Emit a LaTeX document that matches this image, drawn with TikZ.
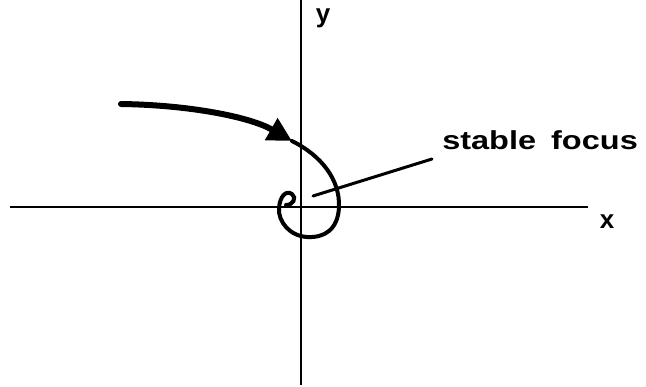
\documentclass[tikz,border=0pt]{standalone}
\usepackage{fontspec}
\setmainfont{Liberation Sans}
\usetikzlibrary{arrows.meta}
\begin{document}
\begin{tikzpicture}[x=1pt,y=-1pt,
  axis/.style={line width=2pt},
  traj/.style={line width=4pt,line cap=round},
  lbl/.style={font=\fontsize{26}{28}\selectfont\bfseries,inner sep=0pt}]
\useasboundingbox (0,0) rectangle (646,387);
% axes
\coordinate (xl) at (10,207);
\coordinate (xr) at (588,207);
\coordinate (yt) at (301,0);
\coordinate (yb) at (301,385);
\draw[axis] (xl) -- (xr);
\draw[axis] (yt) -- (yb);
\node[lbl,anchor=center] (ylab) at (323,18) {y};
\node[lbl,anchor=center] (xlab) at (607,222) {x};
% trajectory
\coordinate (s) at (121,104);
\coordinate (tip) at (292,141);
\draw[line width=6pt,line cap=round,-{Triangle[length=24pt,width=24pt]}]
  (s) .. controls (190,105) and (250,117) .. (tip);
\draw[traj] (tip) .. controls (322,156) and (340,180) .. (339,207)
  .. controls (338,230) and (324,238) .. (307,237)
  .. controls (290,236) and (278,222) .. (279,208)
  .. controls (280,196) and (286,190) .. (292,194)
  .. controls (297,198) and (293,205) .. (286,205);
% label
\node[lbl,anchor=base west,xscale=1.25,transform shape] (lab) at (442,150) {stable\hspace{12pt}focus};
\coordinate (p) at (313,196);
\draw[line width=3pt,line cap=round] (p) -- (432,159);
\end{tikzpicture}
\end{document}
